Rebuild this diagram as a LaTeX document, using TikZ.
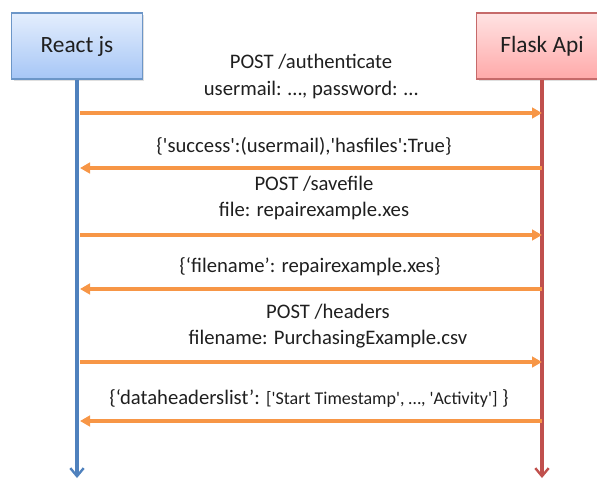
\documentclass[tikz,border=0pt]{standalone}
\usepackage{fontspec}
\setmainfont{Carlito}
\usetikzlibrary{arrows.meta,shadows}

\definecolor{reactline}{HTML}{4F81BD}
\definecolor{reactedge}{HTML}{6C96C8}
\definecolor{reacttop}{HTML}{E4EEFD}
\definecolor{reactbot}{HTML}{A6C6F6}
\definecolor{flaskline}{HTML}{C0504D}
\definecolor{flaskedge}{HTML}{C66A6A}
\definecolor{flasktop}{HTML}{FFE3E3}
\definecolor{flaskbot}{HTML}{FFA9A9}
\definecolor{msgorange}{HTML}{F79646}

\newcommand{\sq}{\textquotesingle}

\tikzset{
  actor/.style={draw, line width=1.2pt, minimum width=98pt, minimum height=49.5pt,
    font=\fontsize{17.5}{20}\selectfont, text=black!88,
    drop shadow={opacity=0.25, shadow xshift=1.5pt, shadow yshift=-1.5pt}},
  client/.style={actor, draw=reactedge, top color=reacttop, bottom color=reactbot},
  server/.style={actor, draw=flaskedge, top color=flasktop, bottom color=flaskbot},
  life/.style={line width=2.6pt, -{Straight Barb[length=6pt,width=10pt,line width=1.8pt]}},
  msg/.style={draw=msgorange, line width=2.5pt, -{Triangle[length=7.5pt,width=8pt]}},
  lbl/.style={font=\fontsize{15.5}{18}\selectfont, text=black!88, inner sep=0pt}
}

\begin{document}
\begin{tikzpicture}[x=0.75pt,y=-0.75pt]
  \useasboundingbox (0,0) rectangle (597,479);

  % the two parties
  \node[client] (react) at (77,46) {React js};
  \node[server] (flask) at (542,46) {Flask Api};
  \coordinate (rend) at (77,478);
  \coordinate (fend) at (542,478);
  \draw[life, reactline] (react.south) -- (rend);
  \draw[life, flaskline] (flask.south) -- (fend);

  % message rows
  \foreach \i/\y in {1/113, 2/168, 3/235, 4/289, 5/362, 6/421} {
    \coordinate (r\i) at (80,\y);
    \coordinate (f\i) at (542,\y);
  }

  \node[lbl] (auth) at (311,62) {POST /authenticate};
  \node[lbl] (creds) at (311,90) {usermail: …, password: …};
  \draw[msg] (r1) -- (f1);

  \node[lbl] (ok) at (304,146) {\{\sq success\sq:(usermail),\sq hasfiles\sq:True\}};
  \draw[msg] (f2) -- (r2);

  \node[lbl] (save) at (314,184) {POST /savefile};
  \node[lbl] (file) at (314,211) {file: repairexample.xes};
  \draw[msg] (r3) -- (f3);

  \node[lbl] (fname) at (310,267) {\{‘filename’: repairexample.xes\}};
  \draw[msg] (f4) -- (r4);

  \node[lbl] (head) at (328,312) {POST /headers};
  \node[lbl] (csv) at (328,339) {filename: PurchasingExample.csv};
  \draw[msg] (r5) -- (f5);

  \node[lbl] (hlist) at (309,398) {\{‘dataheaderslist’: {\fontsize{13.5}{16}\selectfont[\sq Start Timestamp\sq, …, \sq Activity\sq]} \}};
  \draw[msg] (f6) -- (r6);
\end{tikzpicture}
\end{document}
